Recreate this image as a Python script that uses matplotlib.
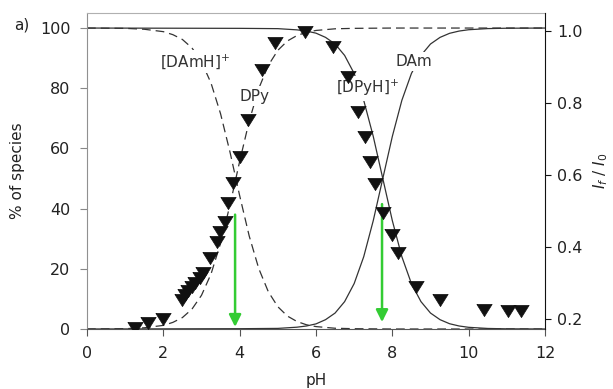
import numpy as np
import matplotlib
matplotlib.use("Agg")
from matplotlib import pyplot as plt

# species distribution curves
ph_am = [0, 1, 1.5, 2, 2.25, 2.5, 2.75, 3, 3.25, 3.5, 3.75, 4, 4.25, 4.5, 4.75,
         5, 5.25, 5.5, 5.75, 6, 6.5, 7, 8, 12]
damh = [100, 99.9, 99.6, 98.8, 97.8, 96.2, 93.4, 88.8, 81.7, 71.5, 58.6, 44.3,
        30.9, 20.1, 12.4, 7.4, 4.3, 2.5, 1.4, 0.8, 0.25, 0.1, 0, 0]
dpy = [0, 0.1, 0.4, 1.2, 2.2, 3.8, 6.6, 11.2, 18.3, 28.5, 41.4, 55.7, 69.1,
       79.9, 87.6, 92.6, 95.7, 97.5, 98.6, 99.2, 99.75, 99.9, 100, 100]

ph_py = [0, 4, 5, 5.5, 5.75, 6, 6.25, 6.5, 6.75, 7, 7.25, 7.5, 7.75, 8, 8.25,
         8.5, 8.75, 9, 9.25, 9.5, 9.75, 10, 10.5, 11, 12]
dpyh = [100, 99.9, 99.8, 99.4, 99.0, 98.3, 96.9, 94.7, 90.9, 84.9, 76.0, 64.0,
        50.0, 36.0, 24.0, 15.1, 9.1, 5.3, 3.1, 1.75, 1.0, 0.56, 0.18, 0.06, 0]
dam = [0, 0.1, 0.2, 0.6, 1.0, 1.7, 3.1, 5.3, 9.1, 15.1, 24.0, 36.0, 50.0, 64.0,
       76.0, 84.9, 90.9, 94.7, 96.9, 98.25, 99.0, 99.44, 99.82, 99.94, 100]

# measured fluorescence ratio If/I0
ph_meas = [1.26, 1.61, 1.98, 2.48, 2.57, 2.65, 2.74, 2.83, 2.96, 3.05, 3.22,
           3.40, 3.48, 3.62, 3.70, 3.83, 4.01, 4.23, 4.58, 4.93, 5.72, 6.45,
           6.85, 7.11, 7.28, 7.41, 7.54, 7.76, 7.98, 8.16, 8.63, 9.25, 10.40,
           11.04, 11.38]
ratio = [0.175, 0.189, 0.201, 0.254, 0.267, 0.278, 0.290, 0.301, 0.314, 0.328,
         0.369, 0.415, 0.443, 0.471, 0.522, 0.577, 0.651, 0.752, 0.891, 0.965,
         0.997, 0.955, 0.872, 0.775, 0.706, 0.637, 0.575, 0.495, 0.434, 0.383,
         0.290, 0.253, 0.226, 0.223, 0.223]

# green arrows marking the pKa values
arrow_ph = [3.88, 7.73]
arrow_top = [38, 41.5]
arrow_tip = [0.7, 2.3]

plt.rcParams['font.family'] = 'DejaVu Sans'
plt.rcParams['mathtext.fontset'] = 'dejavusans'

fig = plt.figure(figsize=(6.13, 3.89), dpi=100)
ax = fig.add_axes([87/613, 60/389, 458/613, 316/389])
ax2 = ax.twinx()

lc = '#333333'
ax.plot(ph_am, damh, color=lc, lw=0.9, ls=(0, (7, 4)))
ax.plot(ph_am, dpy, color=lc, lw=0.9, ls=(0, (7, 4)))
ax.plot(ph_py, dpyh, color=lc, lw=0.9)
ax.plot(ph_py, dam, color=lc, lw=0.9)

for x, y0, y1 in zip(arrow_ph, arrow_top, arrow_tip):
    ax.annotate('', xy=(x, y1), xytext=(x, y0),
                arrowprops=dict(arrowstyle='-|>,head_length=0.6,head_width=0.3',
                                color='#33cc33', lw=1.8, mutation_scale=12,
                                shrinkA=0, shrinkB=0))

tri = [(-1, 0.8), (1, 0.8), (0, -0.8), (-1, 0.8)]
ax2.plot(ph_meas, ratio, ls='none', marker=tri, ms=11, color='#111111',
         mec='#111111', mew=0.5, zorder=5)

# species labels sit on white boxes that break the curves
tc = '#333333'
box = dict(facecolor='white', edgecolor='none', pad=1.5)
ax.text(2.83, 89.0, '[DAmH]$^{+}$', ha='center', va='center', fontsize=11,
        color=tc, bbox=box, zorder=4)
ax.text(4.40, 77.4, 'DPy', ha='center', va='center', fontsize=11,
        color=tc, bbox=box, zorder=4)
ax.text(7.34, 80.0, '[DPyH]$^{+}$', ha='center', va='center', fontsize=11,
        color=tc, bbox=box, zorder=4)
ax.text(8.57, 89.0, 'DAm', ha='center', va='center', fontsize=11,
        color=tc, bbox=box, zorder=4)

ax.set_xlim(0, 12)
ax.set_ylim(0, 105)
ax2.set_ylim(0.173, 1.049)
ax.set_xticks(np.arange(0, 13, 2))
ax.set_yticks(np.arange(0, 101, 20))
ax2.set_yticks([0.2, 0.4, 0.6, 0.8, 1.0])
ax2.set_yticklabels(['0.2', '0.4', '0.6', '0.8', '1.0'])

ax.tick_params(axis='x', direction='out', length=5, width=0.8, pad=7,
               labelsize=11.5, colors='#555555', labelcolor='#222222')
ax.tick_params(axis='y', direction='out', length=5, width=0.8, pad=7,
               labelsize=11.5, colors='#888888', labelcolor='#222222')
ax2.tick_params(axis='y', direction='out', length=4, width=0.8, pad=5,
                labelsize=11.5, colors='#111111', labelcolor='#222222')

ax.spines['top'].set_color('#b0b0b0')
ax.spines['left'].set_color('#909090')
ax.spines['bottom'].set_color('#555555')
ax.spines['right'].set_visible(False)
for s in ['top', 'left', 'bottom']:
    ax2.spines[s].set_visible(False)
ax2.spines['right'].set_color('#111111')

ax.set_xlabel('pH', fontsize=11, color='#222222', labelpad=9)
ax.set_ylabel('% of species', fontsize=11, color='#222222', labelpad=11)
ax2.set_ylabel('$I_f$ / $I_0$', fontsize=11, color='#222222', labelpad=6)

fig.text(22/613, 1 - 25/389, 'a)', ha='center', va='center', fontsize=11,
         color='#222222')

fig.savefig('out.png', dpi=100)
